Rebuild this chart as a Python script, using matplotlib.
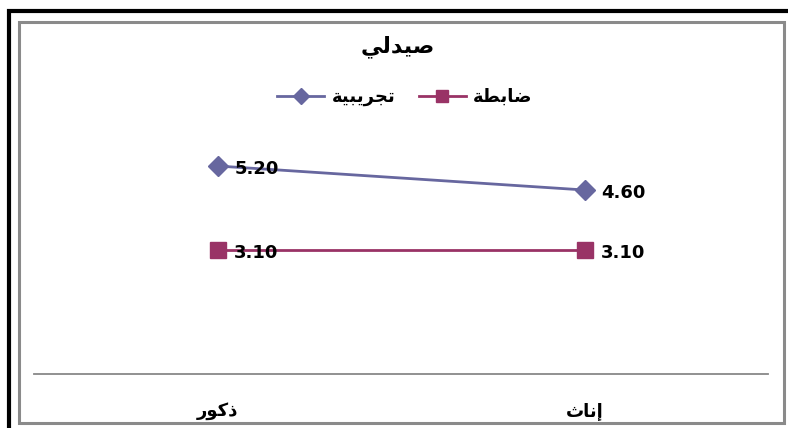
import matplotlib
matplotlib.use("Agg")
from matplotlib import pyplot as plt
from matplotlib.patches import Rectangle

# arabic text is written in presentation forms, visual (left to right) order
title_text = "\ufef2\ufedf\ufeaa\ufef4\ufebb"            # صيدلي
series_names = ["\ufe94\ufef4\ufe92\ufef3\ufeae\ufea0\ufe97",  # تجريبية
                "\ufe94\ufec4\ufe91\ufe8e\ufebf"]              # ضابطة
categories = ["\ufead\ufeee\ufedb\ufeab",                 # ذكور
              "\ufe99\ufe8e\ufee7\ufe87"]                 # إناث
experimental = [5.20, 4.60]
control = [3.10, 3.10]

W, H = 788, 428

def fx(px):
  return px / W

def fy(py):
  return 1 - py / H

plt.rcParams['font.family'] = ['DejaVu Sans']

fig = plt.figure(figsize=(W / 100, H / 100), dpi=100)
fig.patch.set_facecolor("white")

# outer black frame (cut by the image edge) and inner gray chart border
fig.patches.append(Rectangle((fx(9), fy(440)), fx(800) - fx(9), fy(11) - fy(440),
                             transform=fig.transFigure, fill=False,
                             edgecolor="black", linewidth=3.0, zorder=0))
fig.patches.append(Rectangle((fx(18.5), fy(422.5)), fx(783.5) - fx(18.5), fy(21.5) - fy(422.5),
                             transform=fig.transFigure, fill=False,
                             edgecolor="#8a8a8a", linewidth=2.2, zorder=0))

ax = fig.add_axes([fx(34), fy(374), fx(768) - fx(34), fy(134) - fy(374)])
ax.set_facecolor("none")

x = list(range(len(categories)))
ax.plot(x, experimental, color="#67679f", linewidth=2.0, marker="D",
        markersize=10, label=series_names[0])
ax.plot(x, control, color="#993366", linewidth=2.0, marker="s",
        markersize=11, label=series_names[1])

for xi, v in zip(x, experimental):
  ax.annotate("%.2f" % v, (xi, v), xytext=(12, -2), textcoords="offset points",
              ha="left", va="center", fontsize=13, fontweight="bold")
for xi, v in zip(x, control):
  ax.annotate("%.2f" % v, (xi, v), xytext=(12, -2), textcoords="offset points",
              ha="left", va="center", fontsize=13, fontweight="bold")

ax.set_xlim(-0.5, 1.5)
ax.set_ylim(0, 6)
ax.set_yticks([])
ax.set_xticks(x)
ax.set_xticklabels(categories, fontsize=13, fontweight="bold")
ax.tick_params(axis="x", length=0, pad=20)
for side in ["top", "left", "right"]:
  ax.spines[side].set_visible(False)
ax.spines["bottom"].set_color("#888888")
ax.spines["bottom"].set_linewidth(1.3)

fig.text(fx(398), fy(47), title_text, ha="center", va="center",
         fontsize=16, fontweight="bold")

leg = fig.legend(loc="center", bbox_to_anchor=(fx(405), fy(97)), ncol=2,
                 frameon=False, fontsize=13, handlelength=2.6,
                 columnspacing=1.3, handletextpad=0.4, markerscale=0.85)
for t in leg.get_texts():
  t.set_fontweight("bold")

fig.savefig("out.png", dpi=100)
